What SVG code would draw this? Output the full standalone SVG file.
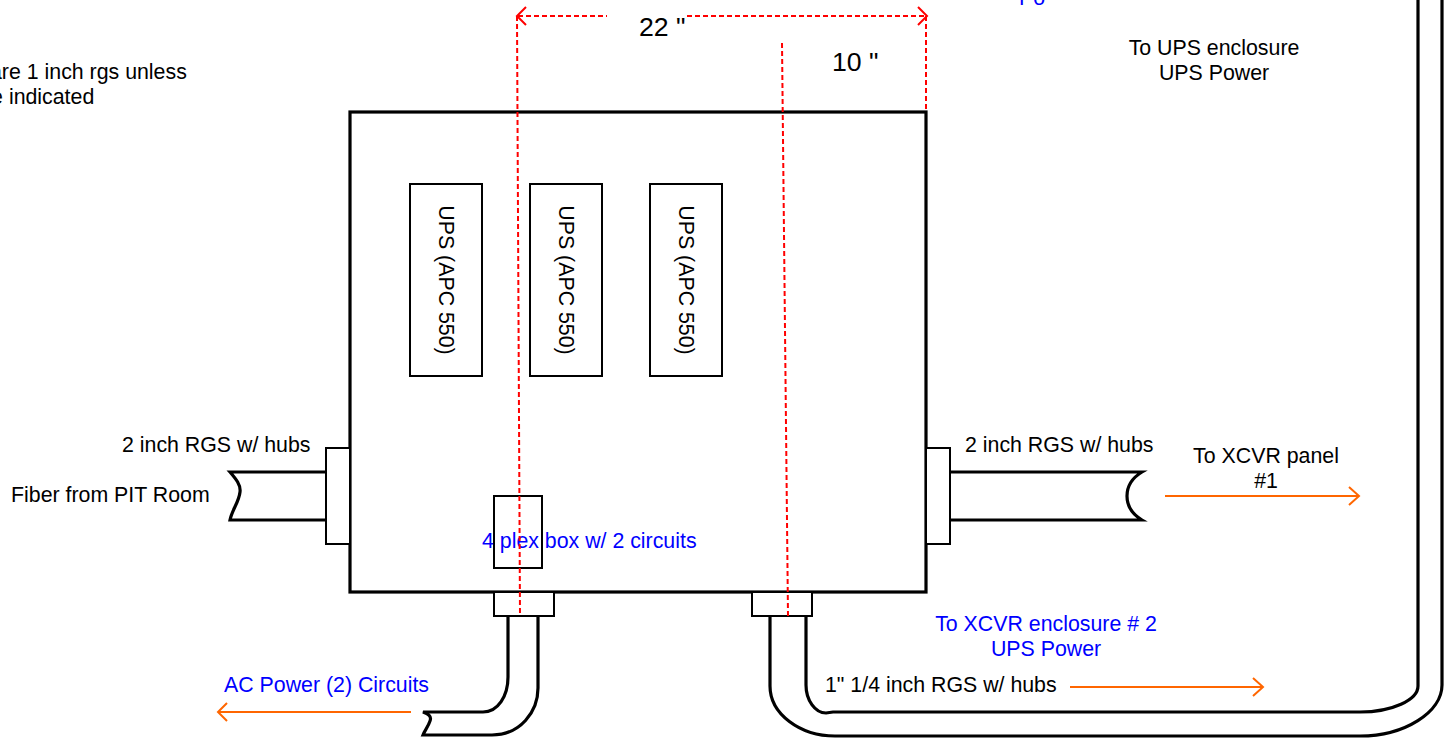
<svg xmlns="http://www.w3.org/2000/svg" width="1447" height="743" viewBox="0 0 1447 743">
<style>
text{font-family:"Liberation Sans",Arial,sans-serif;font-size:21.33px;fill:#000}
.b{fill:#0000ff}
.m{text-anchor:middle}
.l{font-size:26.67px}
.k{fill:none;stroke:#000;stroke-width:3.2}
.t{fill:#fff;stroke:#000;stroke-width:2}
.r{fill:none;stroke:#ff0000;stroke-width:2;stroke-dasharray:5 3}
.a{fill:none;stroke:#ff0000;stroke-width:2}
.o{fill:none;stroke:#ff6600;stroke-width:2}
</style>
<rect width="1447" height="743" fill="#fff"/>
<g id="enclosure"><rect x="350" y="112" width="576" height="480" fill="#fff" stroke="#000" stroke-width="3.2"/></g>
<g id="ups1"><rect class="t" x="410" y="184" width="72" height="192"/><text class="m" transform="translate(439 280) rotate(90)">UPS (APC 550)</text></g>
<g id="ups2"><rect class="t" x="530" y="184" width="72" height="192"/><text class="m" transform="translate(559 280) rotate(90)">UPS (APC 550)</text></g>
<g id="ups3"><rect class="t" x="650" y="184" width="72" height="192"/><text class="m" transform="translate(679 280) rotate(90)">UPS (APC 550)</text></g>
<g id="plex-box"><rect class="t" x="494" y="496" width="48" height="72"/><text class="b" x="482" y="548">4 plex box w/ 2 circuits</text></g>
<g id="hub-left"><rect class="t" x="326" y="448" width="24" height="96"/></g>
<g id="hub-right"><rect class="t" x="926" y="448" width="24" height="96"/></g>
<g id="hub-bottom-left"><rect class="t" x="494" y="592" width="60" height="24"/></g>
<g id="hub-bottom-right"><rect class="t" x="752" y="592" width="60" height="24"/></g>
<g id="connectors">
<path class="k" d="M326 472H230C236 479 241 485 240 492C239 502 232 510 230 520H326"/>
<path class="k" d="M950 472H1142C1122 484 1122 508 1142 520H950"/>
<path class="k" d="M508 615V677C508 696 498 712 483 712H423C428 714 432 716 430 721C428 727 425 730 423 735H492C520 735 538 712 538 688V615"/>
<path class="k" d="M770 615V686C770 714 800 736 835 736H1360C1405 736 1442 712 1442 685V0"/>
<path class="k" d="M806 615V685C806 700 815 713 826 713L833 712H1360C1392 712 1418 700 1418 686V0"/>
<path class="r" d="M517 16L520 616M926 16V112M782 43L788 616"/>
<path class="r" d="M518 16H607M687 16H926"/>
<path class="o" d="M411 712H218M227 703L218 712L227 721"/>
<path class="o" d="M1165 496H1359M1349 487L1359 496L1349 505"/>
<path class="o" d="M1070 687H1263M1253 678L1263 687L1253 696"/>
<path class="a" d="M526 7L517 16L526 25M918 7L927 16L918 25"/>
</g>
<g id="labels">
<text class="l" x="639" y="36">22 "</text>
<text class="l" x="832" y="71">10 "</text>
<text class="b" x="1019" y="5">Po</text>
<text class="m" x="1214" y="55">To UPS enclosure</text>
<text class="m" x="1214" y="80">UPS Power</text>
<text x="-10" y="79">are 1 inch rgs unless</text>
<text x="-16" y="104">re indicated</text>
<text x="122" y="452">2 inch RGS w/ hubs</text>
<text x="11" y="502">Fiber from PIT Room</text>
<text x="965" y="452">2 inch RGS w/ hubs</text>
<text class="m" x="1266" y="463">To XCVR panel</text>
<text class="m" x="1266" y="488">#1</text>
<text class="b m" x="1046" y="631">To XCVR enclosure # 2</text>
<text class="b m" x="1046" y="656">UPS Power</text>
<text x="825" y="692">1" 1/4 inch RGS w/ hubs</text>
<text class="b" x="224" y="692">AC Power (2) Circuits</text>
</g>
</svg>
